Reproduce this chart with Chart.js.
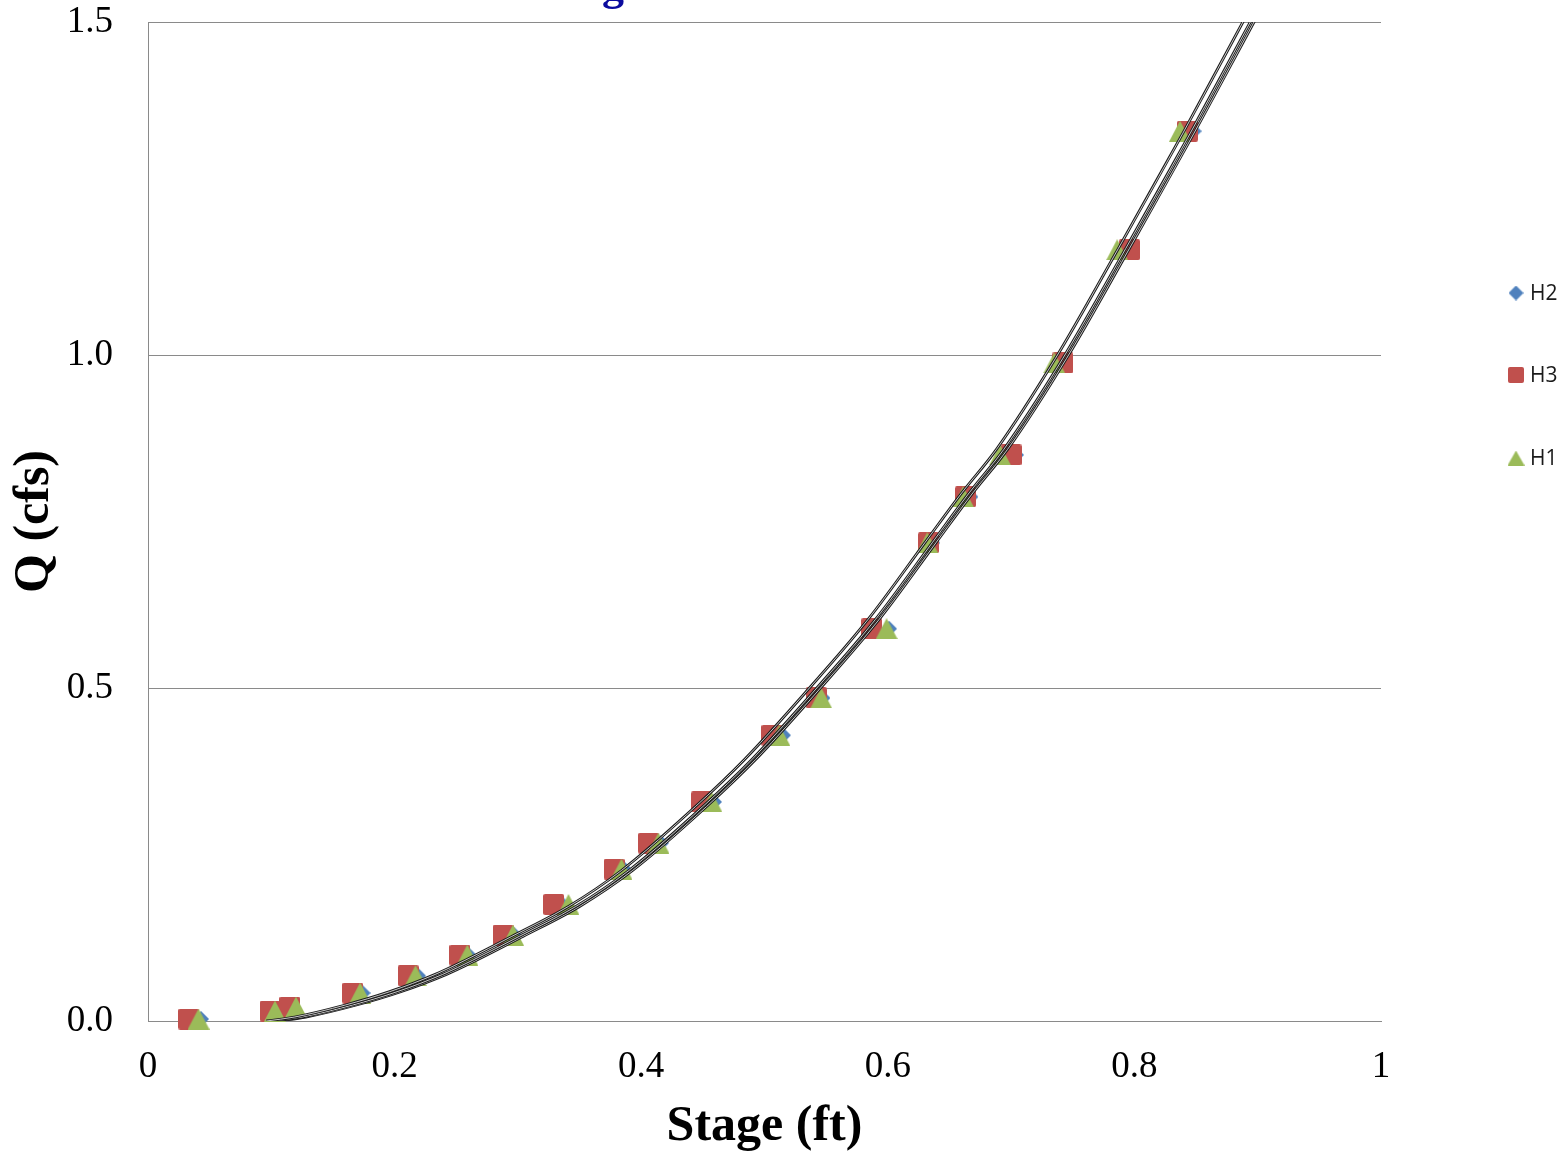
<!DOCTYPE html>
<html>
<head>
<meta charset="utf-8">
<title>Stage vs Q</title>
<script src="https://cdn.jsdelivr.net/npm/chart.js@4.4.1/dist/chart.umd.min.js"></script>
<style>
  html,body{margin:0;padding:0;background:#fff;}
  #wrap{width:1562px;height:1153px;}
</style>
</head>
<body>
<div id="wrap"><canvas id="ratingChart" width="1562" height="1153"></canvas></div>
<script>
const chartTitle = "Rating Curve";
const seriesNames = ["H2", "H3", "H1"];
const seriesColors = ["#4F81BD", "#C0504D", "#9BBB59"];

// measured discharge, shared by the three stage gauges
const flowQ   = [0.003, 0.015, 0.021, 0.042, 0.068, 0.099, 0.129, 0.175, 0.228, 0.267, 0.329, 0.429, 0.485, 0.589, 0.718, 0.787, 0.850, 0.988, 1.158, 1.336];
const stageH2 = [0.043, 0.097, 0.117, 0.174, 0.219, 0.260, 0.297, 0.336, 0.386, 0.416, 0.459, 0.515, 0.547, 0.601, 0.636, 0.667, 0.704, 0.739, 0.795, 0.848];
const stageH3 = [0.033, 0.099, 0.115, 0.166, 0.211, 0.253, 0.288, 0.329, 0.378, 0.406, 0.449, 0.506, 0.542, 0.587, 0.633, 0.663, 0.700, 0.742, 0.796, 0.843];
const stageH1 = [0.041, 0.103, 0.120, 0.172, 0.217, 0.259, 0.296, 0.341, 0.384, 0.414, 0.457, 0.512, 0.546, 0.599, 0.632, 0.661, 0.691, 0.735, 0.786, 0.837];

// fitted rating curves (one per gauge)
const trendQ       = [0.000, 0.006, 0.024, 0.044, 0.070, 0.091, 0.127, 0.172, 0.226, 0.322, 0.393, 0.497, 0.603, 0.718, 0.793, 0.858, 0.995, 1.160, 1.332, 1.500, 1.597];
const trendStageH2 = [0.105, 0.128, 0.169, 0.205, 0.242, 0.266, 0.304, 0.350, 0.393, 0.453, 0.493, 0.544, 0.593, 0.639, 0.669, 0.697, 0.745, 0.796, 0.848, 0.897, 0.925];
const trendStageH3 = [0.102, 0.125, 0.166, 0.202, 0.239, 0.263, 0.301, 0.347, 0.390, 0.450, 0.490, 0.541, 0.590, 0.636, 0.666, 0.694, 0.742, 0.793, 0.845, 0.894, 0.922];
const trendStageH1 = [0.096, 0.119, 0.160, 0.196, 0.233, 0.257, 0.295, 0.341, 0.384, 0.444, 0.484, 0.535, 0.584, 0.630, 0.660, 0.688, 0.736, 0.787, 0.839, 0.888, 0.916];

const xTicks = [0, 0.2, 0.4, 0.6, 0.8, 1];
const xTickLabels = ["0", "0.2", "0.4", "0.6", "0.8", "1"];
const yTicks = [0, 0.5, 1.0, 1.5];
const yTickLabels = ["0.0", "0.5", "1.0", "1.5"];

const SERIF = '"Liberation Serif", "Times New Roman", serif';
const GRID = "#8a8a8a";

function makeMarker(shape, w, h, color){
  const c = document.createElement("canvas");
  c.width = w; c.height = h;
  const g = c.getContext("2d");
  g.fillStyle = color;
  g.beginPath();
  if(shape === "diamond"){
    g.moveTo(w/2, 0); g.lineTo(w, h/2); g.lineTo(w/2, h); g.lineTo(0, h/2);
  } else if(shape === "square"){
    const r = 2;
    g.moveTo(r, 0); g.lineTo(w-r, 0); g.quadraticCurveTo(w, 0, w, r);
    g.lineTo(w, h-r); g.quadraticCurveTo(w, h, w-r, h);
    g.lineTo(r, h); g.quadraticCurveTo(0, h, 0, h-r);
    g.lineTo(0, r); g.quadraticCurveTo(0, 0, r, 0);
  } else {
    g.moveTo(w/2, 0); g.lineTo(w, h); g.lineTo(0, h);
  }
  g.closePath();
  g.fill();
  return c;
}

const pointMarkers = [
  makeMarker("diamond", 16, 16, seriesColors[0]),
  makeMarker("square", 21, 21, seriesColors[1]),
  makeMarker("triangle", 22, 21, seriesColors[2])
];
const legendMarkers = [
  makeMarker("diamond", 15, 15, seriesColors[0]),
  makeMarker("square", 16, 16, seriesColors[1]),
  makeMarker("triangle", 17, 15, seriesColors[2])
];

const zip = (xs, ys) => xs.map((x, i) => ({ x, y: ys[i] }));

function pointSet(i, stages, order){
  return {
    label: seriesNames[i],
    data: zip(stages, flowQ),
    pointStyle: pointMarkers[i],
    pointRadius: 10,
    showLine: false,
    clip: false,
    order
  };
}

// each fitted curve is stroked twice: dark outer line, light core
function trendSets(stages, order){
  const base = { data: zip(stages, trendQ), showLine: true, pointRadius: 0, cubicInterpolationMode: "monotone", clip: 0 };
  return [
    Object.assign({}, base, { label: "", borderColor: "#1c1c1c", borderWidth: 2.8, order: order + 1 }),
    Object.assign({}, base, { label: "", borderColor: "rgba(255,255,255,0.85)", borderWidth: 0.9, order })
  ];
}

const datasets = [
  pointSet(0, stageH2, 12),
  pointSet(1, stageH3, 11),
  pointSet(2, stageH1, 10),
  ...trendSets(trendStageH2, 6),
  ...trendSets(trendStageH3, 4),
  ...trendSets(trendStageH1, 2)
];

// legend on the right and the page title (sits mostly above the canvas)
const overlay = {
  id: "overlay",
  afterDraw(chart){
    const ctx = chart.ctx;
    ctx.save();
    ctx.font = "bold 44px " + SERIF;
    ctx.fillStyle = "#0b0b9e";
    ctx.textAlign = "left";
    ctx.textBaseline = "alphabetic";
    const pre = ctx.measureText("Ratin").width;
    const gw = ctx.measureText("g").width;
    ctx.fillText(chartTitle, 613 - pre - gw/2, 0);

    ctx.font = '21px "Open Sans", sans-serif';
    ctx.fillStyle = "#1a1a1a";
    ctx.textBaseline = "middle";
    const rows = [293, 375, 458];
    legendMarkers.forEach((m, i) => {
      ctx.drawImage(m, 1516 - m.width/2, rows[i] - m.height/2);
      ctx.fillText(seriesNames[i], 1530, rows[i] + 1);
    });
    ctx.restore();
  }
};

new Chart(document.getElementById("ratingChart"), {
  type: "scatter",
  data: { datasets },
  options: {
    responsive: false,
    animation: false,
    layout: { autoPadding: false, padding: { left: 0, right: 181, top: 22, bottom: 0 } },
    plugins: { legend: { display: false }, tooltip: { enabled: false } },
    scales: {
      x: {
        type: "linear", min: 0, max: 1,
        afterBuildTicks: s => { s.ticks = xTicks.map(v => ({ value: v })); },
        afterFit: s => { s.height = 132; },
        grid: { display: false, drawTicks: false },
        border: { display: true, color: GRID, width: 1 },
        ticks: { padding: 24, color: "#000", maxRotation: 0, autoSkip: false,
          font: { family: SERIF, size: 37 }, callback: (v, i) => xTickLabels[i] },
        title: { display: true, text: "Stage (ft)", color: "#000",
          font: { family: SERIF, size: 50, weight: "bold", lineHeight: 1.05 }, padding: { top: 0, bottom: 0 } }
      },
      y: {
        type: "linear", min: 0, max: 1.5,
        afterBuildTicks: s => { s.ticks = yTicks.map(v => ({ value: v })); },
        afterFit: s => { s.width = 148; s.paddingTop = 0; s.paddingBottom = 0; },
        grid: { color: GRID, lineWidth: 1, drawTicks: false },
        border: { display: true, color: GRID, width: 1 },
        ticks: { padding: 35, color: "#000",
          font: { family: SERIF, size: 37 }, callback: (v, i) => yTickLabels[i] },
        title: { display: true, text: "Q (cfs)", color: "#000",
          font: { family: SERIF, size: 50, weight: "bold", lineHeight: 1.2 }, padding: { top: 5, bottom: 0 } }
      }
    }
  },
  plugins: [overlay]
});
</script>
</body>
</html>
